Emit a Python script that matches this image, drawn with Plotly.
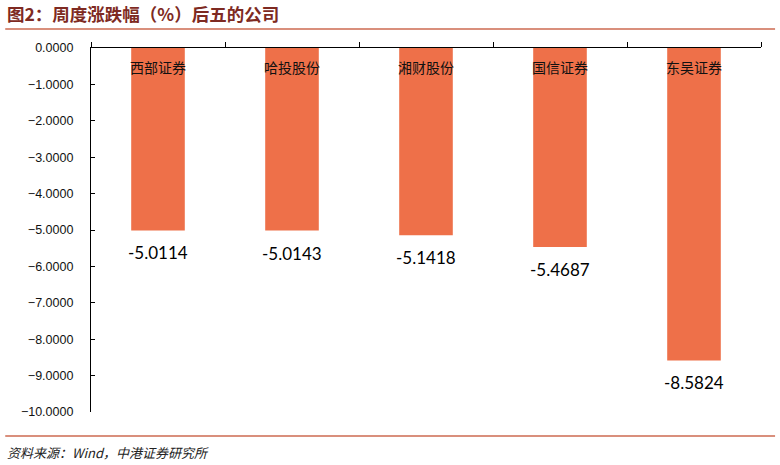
import plotly.graph_objects as go

companies = ["西部证券", "哈投股份", "湘财股份", "国信证券", "东吴证券"]
changes = [-5.0114, -5.0143, -5.1418, -5.4687, -8.5824]
y_ticks = [0, -1, -2, -3, -4, -5, -6, -7, -8, -9, -10]

bar_color = "#EE7049"
line_color = "#CC6A50"

fig = go.Figure(
    go.Bar(
        x=companies,
        y=changes,
        width=0.4,
        marker=dict(color=bar_color, line=dict(width=0)),
        hoverinfo="skip",
    )
)

# category names sit just under the zero line, inside the bars
for name in companies:
    fig.add_annotation(
        x=name, y=0, xref="x", yref="y", text=name, showarrow=False,
        yanchor="top", yshift=-7,
        font=dict(family="Noto Sans CJK SC", size=14, color="#111111"),
    )

# value labels under each bar
for name, val in zip(companies, changes):
    fig.add_annotation(
        x=name, y=val, xref="x", yref="y", text=f"{val:.4f}", showarrow=False,
        yanchor="top", yshift=-10,
        font=dict(family="Lato", size=17, color="#000000"),
    )

fig.add_annotation(
    x=-0.128, y=1.095, xref="paper", yref="paper", xanchor="left", yanchor="middle",
    text="<b>图2：周度涨跌幅（%）后五的公司</b>", showarrow=False,
    font=dict(family="Noto Sans CJK SC", size=17.5, color="#7E2A22"),
)
fig.add_annotation(
    x=-0.128, y=-0.11, xref="paper", yref="paper", xanchor="left", yanchor="middle",
    text="<i>资料来源：Wind，中港证券研究所</i>", showarrow=False,
    font=dict(family="Noto Sans CJK SC", size=13, color="#222222"),
)

fig.add_shape(type="line", xref="paper", yref="paper", x0=-0.128, x1=1.021,
              y0=1.052, y1=1.052, line=dict(color=line_color, width=1.5))
fig.add_shape(type="line", xref="paper", yref="paper", x0=-0.128, x1=1.021,
              y0=-0.066, y1=-0.066, line=dict(color=line_color, width=1.5))

fig.update_layout(
    width=780,
    height=465,
    margin=dict(l=91, r=19, t=48, b=53),
    plot_bgcolor="white",
    paper_bgcolor="white",
    showlegend=False,
    xaxis=dict(
        side="top",
        automargin=False,
        showline=True,
        linecolor="black",
        linewidth=1.2,
        ticks="outside",
        tickson="boundaries",
        ticklen=5,
        tickcolor="black",
        showticklabels=False,
        showgrid=False,
        zeroline=False,
    ),
    yaxis=dict(
        range=[-10, 0],
        automargin=False,
        tickvals=y_ticks,
        tickformat=".4f",
        showline=True,
        linecolor="black",
        linewidth=1.2,
        ticks="inside",
        ticklen=4,
        tickcolor="black",
        ticklabelstandoff=14,
        showgrid=False,
        zeroline=False,
        tickfont=dict(family="Liberation Sans", size=12.5, color="#111111"),
    ),
)

# the page's default body margin would shift the figure by 8px
fig.write_html(
    "out.html",
    config={"displayModeBar": False},
    post_script="document.body.style.margin='0';",
)
